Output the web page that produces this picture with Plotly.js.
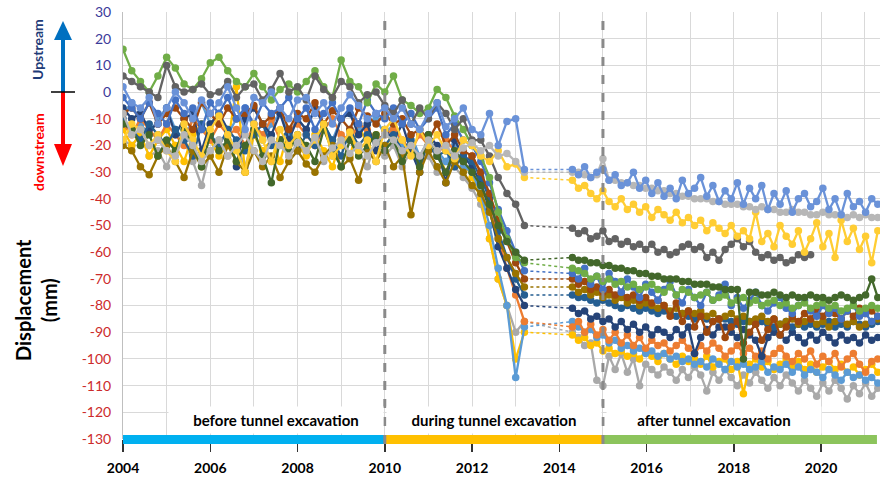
<!DOCTYPE html>
<html><head><meta charset="utf-8">
<script src="https://cdn.plot.ly/plotly-3.0.1.min.js"></script>
<style>html,body{margin:0;padding:0;background:#fff}#chart{width:895px;height:479px}</style>
</head><body><div id="chart"></div>
<script>
// ---------- DATA ----------
const preDates = [2004.0,2004.2,2004.4,2004.6,2004.8,2005.0,2005.2,2005.4,2005.6,2005.8,
 2006.0,2006.2,2006.4,2006.6,2006.8,2007.0,2007.2,2007.4,2007.6,2007.8,
 2008.0,2008.2,2008.4,2008.6,2008.8,2009.0,2009.2,2009.4,2009.6,2009.8,
 2010.0,2010.2,2010.4,2010.6,2010.8,2011.0,2011.2,2011.4,2011.6,2011.8,
 2012.0,2012.2,2012.4,2012.6,2012.8,2013.0,2013.2];
const postDates = [2014.30,2014.44,2014.58,2014.72,2014.86,2015.00,2015.14,2015.28,2015.42,2015.56,
 2015.70,2015.84,2015.98,2016.12,2016.26,2016.40,2016.54,2016.68,2016.82,2016.96,
 2017.10,2017.24,2017.38,2017.52,2017.66,2017.80,2017.94,2018.08,2018.22,2018.36,
 2018.50,2018.64,2018.78,2018.92,2019.06,2019.20,2019.34,2019.48,2019.62,2019.76,
 2019.90,2020.04,2020.18,2020.32,2020.46,2020.60,2020.74,2020.88,2021.02,2021.16,2021.30];

const preGray2 = [-18,-20,-16,-24,-22,-28,-20,-18,-26,-35, -22,-18,-24,-20,-28,-16,-22,-26,-18,-24,
 -20,-22,-18,-26,-24,-20,-16,-22,-28,-18, -24,-20,-28,-22,-26,-24,-30,-26,-28,-32, -36,-42,-55,-70,-80,-90,-86];
const postGray2 = [-90,-92,-95,-94,-108,-110,-99,-104,-98,-105, -100,-110,-102,-104,-106,-103,-105,-108,-104,-107,
 -103,-106,-112,-105,-108,-104,-107,-110,-106,-109, -105,-108,-111,-107,-110,-106,-109,-112,-108,-111,
 -114,-109,-112,-108,-111,-115,-110,-113,-109,-114, -111];

const preYellow2 = [-14,-20,-16,-24,-18,-14,-20,-26,-16,-12, -18,-24,-20,2,-30,-16,-22,-18,-26,-14,
 -20,-24,-16,-22,-28,-18,-24,-12,-20,-16, -22,-14,-24,-20,-28,-18,-22,-30,-24,-26, -32,-40,-55,-70,-80,-100,-90];
const postYellow2 = [-91,-93,-92,-95,-94,-97,-96,-98,-97,-99, -98,-100,-97,-99,-101,-98,-100,-102,-99,-101,
 -100,-102,-99,-103,-101,-100,-104,-101,-113,-102, -100,-103,-101,-104,-102,-100,-103,-101,-104,-102,
 -105,-103,-101,-104,-102,-105,-103,-106,-104,-102, -105];

const preLightBlue2 = [-8,-4,-12,-16,-10,-6,-14,-18,-10,-4, -12,-8,-16,-10,-6,-14,-18,-12,-8,-16,
 -10,-14,-6,-12,-18,-10,-8,-14,-12,-10, -16,-12,-20,-16,-24,-18,-22,-26,-20,-28, -30,-38,-50,-66,-80,-107,-88];
const postLightBlue2 = [-86,-88,-90,-89,-92,-91,-94,-93,-96,-95, -97,-96,-98,-97,-99,-98,-100,-99,-101,-100,
 -102,-101,-103,-100,-102,-104,-101,-103,-102,-104, -103,-101,-105,-103,-104,-102,-105,-103,-106,-104,
 -105,-107,-104,-106,-108,-105,-107,-106,-108,-107, -109];

const preOrange = [-12,-16,-10,-14,-18,-12,-16,-20,-10,-14, -18,-12,-16,-14,-20,-12,-16,-10,-18,-14,
 -12,-16,-20,-14,-10,-16,-18,-12,-14,-18, -16,-14,-18,-22,-16,-20,-24,-18,-22,-26, -24,-30,-40,-55,-66,-76,-86];
const postOrange = [-88,-86,-90,-87,-91,-89,-93,-90,-94,-91, -95,-92,-96,-93,-95,-94,-97,-95,-93,-96,
 -98,-95,-97,-94,-96,-99,-97,-95,-98,-96, -99,-97,-100,-98,-96,-99,-101,-98,-100,-97,
 -102,-99,-101,-98,-103,-100,-98,-102,-105,-101, -100];

const preNavy = [-6,-10,-8,-14,-12,-6,-16,-10,-8,-22, -12,-8,-14,-28,-10,-6,-12,-16,-8,-18,
 -10,-14,-6,-12,-20,-10,-8,-16,-12,-22, -14,-18,-12,-22,-30,-16,-20,-34,-18,-24, -28,-34,-44,-58,-66,-74,-80];
const postNavy = [-81,-83,-82,-85,-84,-86,-85,-88,-86,-89, -87,-90,-88,-91,-89,-90,-92,-89,-91,-88,
 -98,-92,-89,-91,-88,-88,-90,-92,-89,-91, -93,-99,-92,-90,-91,-93,-90,-92,-94,-91,
 -93,-90,-92,-94,-91,-93,-92,-94,-91,-93, -92];

const preSteelBlue = [-10,-14,-18,-12,-16,-20,-14,-18,-24,-12, -16,-20,-14,-18,-22,-16,-12,-20,-18,-14,
 -22,-16,-20,-12,-18,-24,-14,-20,-16,-18, -20,-16,-22,-18,-26,-20,-24,-22,-28,-24, -26,-32,-40,-52,-62,-70,-76];
const postSteelBlue = [-76,-77,-77,-78,-79,-78,-79,-80,-81,-80, -81,-82,-81,-82,-83,-82,-83,-84,-83,-84,
 -85,-84,-85,-86,-85,-85,-86,-87,-86,-86, -87,-86,-87,-88,-87,-86,-88,-87,-88,-87,
 -88,-87,-86,-88,-87,-88,-86,-87,-88,-87, -86];

const preDarkYellow = [-20,-22,-28,-31,-24,-20,-26,-32,-22,-28, -24,-30,-20,-26,-30,-22,-28,-24,-32,-26,
 -22,-27,-30,-24,-20,-28,-25,-33,-22,-26, -20,-28,-24,-46,-30,-22,-28,-34,-26,-30, -35,-38,-45,-55,-62,-68,-73];
const postDarkYellow = [-73,-75,-74,-76,-75,-77,-76,-78,-77,-79, -78,-80,-79,-80,-81,-80,-82,-81,-83,-82,
 -83,-82,-84,-83,-85,-84,-83,-85,-84,-86, -85,-84,-86,-85,-87,-86,-85,-87,-86,-85,
 -87,-86,-88,-86,-85,-87,-86,-88,-87,-86, -85];

const preBrown = [-8,-6,-10,-4,-12,-8,-6,-10,-14,-4, -8,-12,-6,-10,-8,-5,-12,-9,-6,-14,
 -8,-10,-4,-12,-7,-10,-14,-6,-9,-12, -8,-12,-10,-16,-14,-18,-12,-20,-16,-22, -24,-30,-38,-48,-56,-64,-70];
const postBrown = [-70,-72,-71,-74,-73,-75,-74,-76,-75,-77, -76,-78,-77,-79,-78,-80,-84,-79,-86,-82,
 -88,-84,-90,-86,-85,-92,-88,-86,-94,-90, -87,-93,-89,-85,-91,-88,-84,-86,-83,-85,
 -82,-84,-81,-83,-85,-82,-84,-81,-83,-82, -84];

const preBlue = [-2,-6,-10,-4,-8,-12,-3,-8,-6,-14, -4,-8,-2,-10,-6,-12,-4,-8,-6,-2,
 -10,-6,-14,-8,-4,-10,-6,-12,-3,-8, -10,-6,-12,-8,-14,-10,-6,-16,-12,-18, -20,-26,-34,-44,-52,-60,-67];
const postBlue = [-68,-70,-66,-72,-69,-74,-68,-71,-75,-70, -73,-77,-72,-75,-78,-74,-71,-76,-79,-74,
 -77,-80,-75,-78,-76,-72,-80,-77,-81,-78, -75,-80,-82,-79,-77,-81,-83,-80,-78,-82,
 -84,-80,-83,-81,-85,-82,-80,-84,-83,-86, -84];

const preGreen = [16,8,4,0,6,13,9,3,1,5, 11,13,8,4,2,7,2,-3,1,3,
 0,4,8,2,-2,12,4,2,-4,3, 0,6,-3,-5,-8,-6,1,-2,-9,-14, -20,-24,-32,-45,-55,-62,-64];
const postGreen = [-66,-67,-68,-70,-69,-71,-70,-72,-71,-73, -72,-74,-73,-72,-74,-75,-73,-76,-74,-75,
 -77,-76,-75,-78,-77,-76,-79,-78,-77,-79, -78,-80,-79,-78,-80,-79,-81,-80,-79,-81,
 -80,-79,-81,-80,-82,-81,-80,-82,-81,-80, -81];

const preDarkGreen = [-12,-14,-20,-16,-24,-18,-22,-14,-20,-28, -16,-22,-18,-26,-20,-14,-24,-34,-18,-22,
 -16,-20,-26,-14,-22,-28,-18,-24,-20,-16, -22,-18,-26,-20,-28,-16,-24,-30,-22,-26, -30,-35,-42,-50,-56,-60,-63];
const postDarkGreen = [-62,-63,-63,-64,-64,-65,-65,-66,-66,-67, -67,-68,-68,-69,-69,-70,-70,-70,-71,-71,
 -72,-72,-72,-73,-73,-74,-74,-74,-100,-75, -75,-76,-76,-75,-76,-77,-76,-77,-77,-76,
 -77,-77,-78,-77,-76,-77,-78,-77,-76,-70, -77];

const preDarkGray = [6,4,2,0,-2,10,2,0,1,3, -1,0,4,-2,2,3,-3,1,7,0,
 2,-3,6,1,-2,4,2,-4,-1,0, -5,-8,-3,-12,-6,-10,-4,-8,-14,-10, -18,-18,-24,-32,-38,-42,-50];
const postDarkGray = [-51,-53,-52,-55,-54,-52,-56,-55,-57,-56, -58,-57,-59,-57,-60,-59,-61,-60,-58,-57,
 -59,-58,-62,-60,-63,-59,-57,-55,-58,-56, -60,-62,-61,-63,-62,-64,-63,-61,-62,-61,
 null,null,null,null,null,null,null,null,null,null, null];

const preYellow1 = [-18,-12,-14,-20,-16,-22,-26,-12,-18,-24, -14,-9,-16,-22,-30,-12,-18,-26,-14,-20,
 -16,-22,-18,-12,-24,-20,-15,-22,-18,-26, -14,-10,-18,-24,-14,-20,-16,-22,-25,-18, -20,-24,-26,-22,-28,-27,-32];
const postYellow1 = [-33,-36,-35,-38,-40,-37,-41,-43,-40,-44, -42,-45,-43,-47,-44,-46,-48,-45,-49,-47,
 -50,-48,-52,-49,-51,-53,-50,-54,-52,-55, -45,-56,-53,-58,-50,-54,-57,-52,-60,-55,
 -49,-58,-53,-62,-48,-56,-51,-59,-54,-64, -52];

const preGray1 = [-8,-16,-14,-20,-18,-22,-24,-16,-20,-26, -22,-18,-24,-20,-16,-22,-26,-18,-20,-24,
 -19,-22,-17,-25,-21,-18,-23,-20,-24,-19, -16,-18,-22,-20,-24,-18,-22,-20,-24,-21, -19,-22,-20,-24,-23,-26,-30];
const postGray1 = [-30,-30,-31,-32,-31,-25,-33,-33,-34,-34, -35,-35,-36,-36,-37,-37,-38,-38,-39,-39,
 -40,-40,-40,-41,-41,-42,-42,-42,-43,-43, -44,-43,-44,-44,-45,-45,-44,-45,-45,-46,
 -46,-45,-46,-46,-46,-47,-46,-47,-46,-47, -47];

const preLightBlue1 = [2,-4,-6,-2,-12,-6,0,-4,-10,-3, -8,-4,2,-6,-14,-2,-4,0,-6,-10,
 -3,-2,-8,-4,-12,-6,-1,-5,-10,-8, -6,-10,-6,-12,-14,-8,-4,-13,-10,-6, -14,-16,-8,-20,-11,-10,-29];
const postLightBlue1 = [-29,-31,-28,-32,-30,-29,-33,-31,-35,-34, -30,-36,-33,-38,-34,-39,-36,-40,-33,-38,
 -36,-32,-39,-35,-41,-37,-40,-34,-42,-36, -40,-35,-44,-38,-42,-37,-45,-40,-38,-43,
 -41,-36,-44,-40,-46,-38,-43,-41,-45,-40, -42];

const yTickVals = [30,20,10,0,-10,-20,-30,-40,-50,-60,-70,-80,-90,-100,-110,-120,-130];
const xTickVals = [2004,2006,2008,2010,2012,2014,2016,2018,2020];
const phaseLabels = ['before tunnel excavation','during tunnel excavation','after tunnel excavation'];
const phaseStart = [2004, 2010, 2015];
const phaseEnd = [2010, 2015, 2021.28];
const phaseColors = ['#00b0f0','#ffc000','#8cc45c'];

// ---------- SERIES (draw order: bottom to top) ----------
const series = [
  {c:'#a9a9a9', pre:preGray2, post:postGray2},
  {c:'#ffc000', pre:preYellow2, post:postYellow2},
  {c:'#5b9bd5', pre:preLightBlue2, post:postLightBlue2},
  {c:'#ed7d31', pre:preOrange, post:postOrange},
  {c:'#264478', pre:preNavy, post:postNavy},
  {c:'#255e91', pre:preSteelBlue, post:postSteelBlue},
  {c:'#997300', pre:preDarkYellow, post:postDarkYellow},
  {c:'#9e480e', pre:preBrown, post:postBrown},
  {c:'#4472c4', pre:preBlue, post:postBlue},
  {c:'#70ad47', pre:preGreen, post:postGreen},
  {c:'#43682b', pre:preDarkGreen, post:postDarkGreen},
  {c:'#636363', pre:preDarkGray, post:postDarkGray},
  {c:'#ffcd33', pre:preYellow1, post:postYellow1},
  {c:'#b7b7b7', pre:preGray1, post:postGray1},
  {c:'#6a92d8', pre:preLightBlue1, post:postLightBlue1}
];

const traces = [];
series.forEach(s => {
  traces.push({x:[preDates[preDates.length-1], postDates[0]], y:[s.pre[s.pre.length-1], s.post[0]],
    mode:'lines', line:{color:s.c, width:1.5, dash:'dot'}, hoverinfo:'skip', showlegend:false});
});
series.forEach(s => {
  traces.push({x:preDates, y:s.pre, mode:'lines+markers', line:{color:s.c, width:2.3},
    marker:{color:s.c, size:7.5}, showlegend:false});
  traces.push({x:postDates, y:s.post, mode:'lines+markers', line:{color:s.c, width:2.3},
    marker:{color:s.c, size:7.5}, connectgaps:false, showlegend:false});
});

// ---------- LAYOUT ----------
const pxX = p => (p-123)/757;
const pxY = p => (439-p)/427;

const shapes = [];
phaseStart.forEach((s,i) => {
  shapes.push({type:'rect', xref:'x', yref:'paper', x0:s, x1:phaseEnd[i], y0:pxY(444), y1:pxY(435),
    fillcolor:phaseColors[i], line:{width:0}, layer:'above'});
});
[2010, 2015].forEach(x => shapes.push({type:'line', xref:'x', yref:'paper', x0:x, x1:x, y0:pxY(444), y1:1,
  line:{color:'#8a8a8a', width:3, dash:'dash'}, layer:'above'}));
// direction arrows
shapes.push({type:'line', xref:'paper', yref:'paper', x0:pxX(63), x1:pxX(63), y0:pxY(92), y1:pxY(38), line:{color:'#0070c0', width:4}});
shapes.push({type:'path', xref:'paper', yref:'paper', path:`M ${pxX(54)} ${pxY(40)} L ${pxX(72)} ${pxY(40)} L ${pxX(63)} ${pxY(21)} Z`, fillcolor:'#0070c0', line:{width:0}});
shapes.push({type:'line', xref:'paper', yref:'paper', x0:pxX(63), x1:pxX(63), y0:pxY(92), y1:pxY(146), line:{color:'#ff0000', width:4}});
shapes.push({type:'path', xref:'paper', yref:'paper', path:`M ${pxX(54)} ${pxY(144)} L ${pxX(72)} ${pxY(144)} L ${pxX(63)} ${pxY(166)} Z`, fillcolor:'#ff0000', line:{width:0}});
shapes.push({type:'line', xref:'paper', yref:'paper', x0:pxX(51), x1:pxX(75), y0:pxY(92), y1:pxY(92), line:{color:'#000', width:1.5}});

const phaseCenters = [2007.5, 2012.5, 2017.55];
const annotations = phaseLabels.map((t,i) => ({
  text:t, xref:'x', yref:'paper', x:phaseCenters[i], y:pxY(420), xanchor:'center', yanchor:'middle',
  showarrow:false, bgcolor:'#ffffff', width:212, height:24,
  font:{family:'Lato, sans-serif', size:15, color:'#000', weight:'bold'}
}));
annotations.push({text:'Displacement<br>(mm)', xref:'paper', yref:'paper', x:pxX(36), y:pxY(300),
  xanchor:'center', yanchor:'middle', textangle:-90, showarrow:false,
  font:{family:'Lato, sans-serif', size:20, color:'#000', weight:'bold'}});
annotations.push({text:'Upstream', xref:'paper', yref:'paper', x:pxX(38), y:pxY(50),
  xanchor:'center', yanchor:'middle', textangle:-90, showarrow:false,
  font:{family:'Lato, sans-serif', size:14, color:'#1f3c78', weight:'bold'}});
annotations.push({text:'downstream', xref:'paper', yref:'paper', x:pxX(38), y:pxY(152),
  xanchor:'center', yanchor:'middle', textangle:-90, showarrow:false,
  font:{family:'Lato, sans-serif', size:14, color:'#ff0000', weight:'bold'}});

const yTickText = yTickVals.map(v => `<span style="color:${v>=0?'#3b3b9a':'#cc2b2b'}">${v}</span>`);

const layout = {
  width:895, height:479,
  margin:{l:123, r:15, t:12, b:40},
  paper_bgcolor:'#ffffff', plot_bgcolor:'#ffffff',
  showlegend:false,
  xaxis:{range:[2004, 2021.35], tickvals:xTickVals, ticktext:xTickVals.map(String),
    ticks:'outside', ticklen:12, tickwidth:1.5, tickcolor:'#333', ticklabelstandoff:4,
    showgrid:true, gridcolor:'#d9d9d9', gridwidth:1, zeroline:false, showline:false,
    minor:{tickvals:[2005,2007,2009,2011,2013,2015,2017,2019,2021], showgrid:true, gridcolor:'#d9d9d9', gridwidth:1, ticks:''},
    tickfont:{family:'Lato, sans-serif', size:14, color:'#000', weight:'bold'}},
  yaxis:{range:[-130, 30], tickvals:yTickVals, ticktext:yTickText, ticks:'', ticklabelstandoff:8,
    showgrid:true, gridcolor:'#d9d9d9', gridwidth:1, zeroline:false,
    showline:true, linecolor:'#bfbfbf', linewidth:1,
    tickfont:{family:'Lato, sans-serif', size:14, color:'#cc2b2b'}},
  shapes:shapes,
  annotations:annotations
};

Plotly.newPlot('chart', traces, layout, {displayModeBar:false, staticPlot:true});
</script>
</body></html>
